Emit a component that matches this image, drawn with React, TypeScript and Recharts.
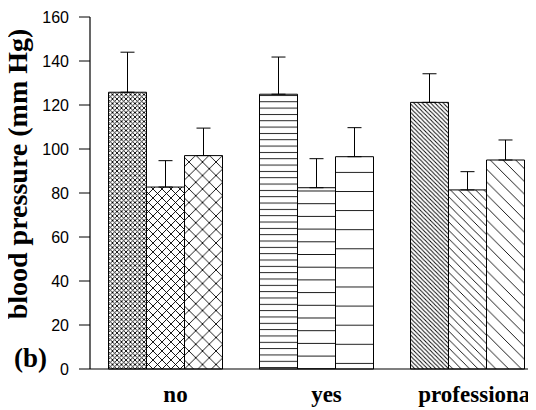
import { Bar, BarChart, Cell, ErrorBar, XAxis, YAxis } from 'recharts';

const categories = ['no', 'yes', 'professional'];

// three bars per group (left, middle, right)
const leftValues = [125.8, 124.9, 121.2];
const middleValues = [82.7, 82.4, 81.4];
const rightValues = [97, 96.5, 95];

// upward standard deviation
const leftErrors = [18.2, 16.9, 13];
const middleErrors = [12, 13.2, 8.3];
const rightErrors = [12.5, 13.2, 9.1];

const yTicks = [0, 20, 40, 60, 80, 100, 120, 140, 160];

const data = categories.map((name, i) => ({
  name,
  left: leftValues[i],
  middle: middleValues[i],
  right: rightValues[i],
  leftErr: [0, leftErrors[i]],
  middleErr: [0, middleErrors[i]],
  rightErr: [0, rightErrors[i]],
}));

// hatch per group (crosshatch / horizontal / diagonal), density per bar
const leftFills = ['url(#xh1)', 'url(#hl1)', 'url(#dg1)'];
const middleFills = ['url(#xh2)', 'url(#hl2)', 'url(#dg2)'];
const rightFills = ['url(#xh3)', 'url(#hl3)', 'url(#dg3)'];

const SERIF = "'Liberation Serif', 'DejaVu Serif', serif";
const SANS = "'Liberation Sans', Arial, sans-serif";

function Patterns() {
  const cross = (id: string, p: number) => (
    <pattern id={id} width={p} height={p} patternUnits="userSpaceOnUse">
      <rect width={p} height={p} fill="#fff" />
      <path d={`M0,0 L${p},${p} M${p},0 L0,${p}`} stroke="#000" strokeWidth={0.9} />
    </pattern>
  );
  const horiz = (id: string, p: number) => (
    <pattern id={id} width={10} height={p} patternUnits="userSpaceOnUse">
      <rect width={10} height={p} fill="#fff" />
      <line x1={0} y1={0.5} x2={10} y2={0.5} stroke="#000" strokeWidth={0.9} />
    </pattern>
  );
  const diag = (id: string, p: number) => (
    <pattern id={id} width={p} height={p} patternUnits="userSpaceOnUse">
      <rect width={p} height={p} fill="#fff" />
      <path
        d={`M0,0 L${p},${p} M${p - 1},-1 L${p + 1},1 M-1,${p - 1} L1,${p + 1}`}
        stroke="#000"
        strokeWidth={0.9}
      />
    </pattern>
  );
  return (
    <svg width={0} height={0} style={{ position: 'absolute' }}>
      <defs>
        {cross('xh1', 4.5)}
        {cross('xh2', 9)}
        {cross('xh3', 13.5)}
        {horiz('hl1', 6.33)}
        {horiz('hl2', 12.7)}
        {horiz('hl3', 19.1)}
        {diag('dg1', 4.2)}
        {diag('dg2', 8.4)}
        {diag('dg3', 12.7)}
      </defs>
    </svg>
  );
}

const serifBold = { fontFamily: SERIF, fontWeight: 700 };

function CategoryTick(props: any) {
  const { x, y, payload } = props;
  return (
    <text x={x + 10} y={y + 33} textAnchor="middle" style={serifBold} fontSize={23} fill="#000">
      {payload.value}
    </text>
  );
}

function AxisTitle() {
  return (
    <g>
      <text
        x={27}
        y={174}
        transform="rotate(-90, 27, 174)"
        textAnchor="middle"
        style={serifBold}
        fontSize={28}
        fill="#000"
      >
        blood pressure (mm Hg)
      </text>
      <text x={14} y={367} style={serifBold} fontSize={27} fill="#000">
        (b)
      </text>
    </g>
  );
}

export default function App() {
  return (
    <div style={{ position: 'relative', margin: '-8px 0 0 -8px', width: 536, height: 410, overflow: 'hidden', background: '#fff' }}>
      <Patterns />
      <BarChart
        width={543}
        height={410}
        data={data}
        margin={{ top: 17, right: 0, bottom: 0, left: 0 }}
        barCategoryGap={18.5}
        barGap={0}
      >
        <XAxis
          dataKey="name"
          height={41}
          axisLine={{ stroke: '#000', strokeWidth: 1.2 }}
          tickLine={false}
          tickSize={0}
          tickMargin={0}
          tick={<CategoryTick />}
        />
        <YAxis
          width={90}
          domain={[0, 160]}
          ticks={yTicks}
          interval={0}
          axisLine={{ stroke: '#000', strokeWidth: 1.2 }}
          tickLine={{ stroke: '#000', strokeWidth: 1 }}
          tickSize={11}
          tickMargin={10}
          tick={{ fill: '#000', fontSize: 16, fontFamily: SANS }}
          label={<AxisTitle />}
        />
        <Bar dataKey="left" stroke="#000" strokeWidth={1} isAnimationActive={false}>
          {data.map((_, i) => (
            <Cell key={i} fill={leftFills[i]} />
          ))}
          <ErrorBar dataKey="leftErr" width={7} stroke="#000" strokeWidth={1} isAnimationActive={false} />
        </Bar>
        <Bar dataKey="middle" stroke="#000" strokeWidth={1} isAnimationActive={false}>
          {data.map((_, i) => (
            <Cell key={i} fill={middleFills[i]} />
          ))}
          <ErrorBar dataKey="middleErr" width={7} stroke="#000" strokeWidth={1} isAnimationActive={false} />
        </Bar>
        <Bar dataKey="right" stroke="#000" strokeWidth={1} isAnimationActive={false}>
          {data.map((_, i) => (
            <Cell key={i} fill={rightFills[i]} />
          ))}
          <ErrorBar dataKey="rightErr" width={7} stroke="#000" strokeWidth={1} isAnimationActive={false} />
        </Bar>
      </BarChart>
    </div>
  );
}
